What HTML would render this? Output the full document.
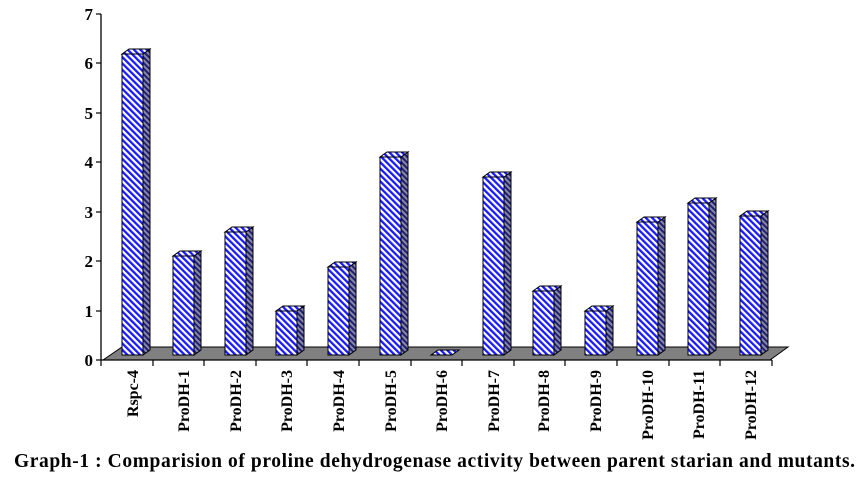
<!DOCTYPE html>
<html><head><style>
body{margin:0;background:#fff;}
svg{display:block;font-family:"Liberation Serif",serif;font-weight:bold;}
</style></head><body>
<svg width="862" height="480" xmlns="http://www.w3.org/2000/svg">
<defs>
<pattern id="f" width="4.5" height="4.5" patternUnits="userSpaceOnUse" patternTransform="rotate(-45)">
<rect width="4.5" height="4.5" fill="#fff"/><rect width="2.3" height="4.5" fill="#1a1aff"/></pattern>
<pattern id="s" width="4" height="4" patternUnits="userSpaceOnUse" patternTransform="rotate(-45)">
<rect width="4" height="4" fill="#8888a8"/><rect width="2" height="4" fill="#202070"/></pattern>
</defs>
<polygon points="103,360 122,347 788,347 770,360" fill="#808080" stroke="#000" stroke-width="1"/>
<line x1="101" y1="14" x2="101" y2="360" stroke="#000" stroke-width="1.3"/>
<line x1="101" y1="360" x2="772" y2="360" stroke="#000" stroke-width="1.3"/>
<g stroke="#000" stroke-width="1.2">
<line x1="96" y1="14" x2="101" y2="14"/><line x1="96" y1="63" x2="101" y2="63"/><line x1="96" y1="113" x2="101" y2="113"/><line x1="96" y1="162" x2="101" y2="162"/><line x1="96" y1="212" x2="101" y2="212"/><line x1="96" y1="261" x2="101" y2="261"/><line x1="96" y1="311" x2="101" y2="311"/><line x1="96" y1="360" x2="101" y2="360"/>
<line x1="101" y1="360" x2="101" y2="366"/><line x1="153" y1="360" x2="153" y2="366"/><line x1="204" y1="360" x2="204" y2="366"/><line x1="256" y1="360" x2="256" y2="366"/><line x1="307" y1="360" x2="307" y2="366"/><line x1="359" y1="360" x2="359" y2="366"/><line x1="411" y1="360" x2="411" y2="366"/><line x1="462" y1="360" x2="462" y2="366"/><line x1="514" y1="360" x2="514" y2="366"/><line x1="565" y1="360" x2="565" y2="366"/><line x1="617" y1="360" x2="617" y2="366"/><line x1="669" y1="360" x2="669" y2="366"/><line x1="720" y1="360" x2="720" y2="366"/><line x1="772" y1="360" x2="772" y2="366"/>
</g>
<g font-size="17" text-anchor="end">
<text x="93" y="20">7</text><text x="93" y="69">6</text><text x="93" y="119">5</text><text x="93" y="168">4</text><text x="93" y="218">3</text><text x="93" y="267">2</text><text x="93" y="317">1</text><text x="93" y="366">0</text>
</g>
<g stroke="#000" stroke-width="1">
<rect x="122" y="54" width="21" height="301" fill="url(#f)"/><polygon points="143,54 150,49 150,350 143,355" fill="url(#s)"/><polygon points="122,54 129,49 150,49 143,54" fill="url(#f)"/>
<rect x="173" y="256" width="21" height="99" fill="url(#f)"/><polygon points="194,256 201,251 201,350 194,355" fill="url(#s)"/><polygon points="173,256 180,251 201,251 194,256" fill="url(#f)"/>
<rect x="225" y="232" width="21" height="123" fill="url(#f)"/><polygon points="246,232 253,227 253,350 246,355" fill="url(#s)"/><polygon points="225,232 232,227 253,227 246,232" fill="url(#f)"/>
<rect x="276" y="311" width="21" height="44" fill="url(#f)"/><polygon points="297,311 304,306 304,350 297,355" fill="url(#s)"/><polygon points="276,311 283,306 304,306 297,311" fill="url(#f)"/>
<rect x="328" y="267" width="21" height="88" fill="url(#f)"/><polygon points="349,267 356,262 356,350 349,355" fill="url(#s)"/><polygon points="328,267 335,262 356,262 349,267" fill="url(#f)"/>
<rect x="380" y="157" width="21" height="198" fill="url(#f)"/><polygon points="401,157 408,152 408,350 401,355" fill="url(#s)"/><polygon points="380,157 387,152 408,152 401,157" fill="url(#f)"/>
<polygon points="431,355 438,350 459,350 452,355" fill="url(#f)"/>
<rect x="483" y="177" width="21" height="178" fill="url(#f)"/><polygon points="504,177 511,172 511,350 504,355" fill="url(#s)"/><polygon points="483,177 490,172 511,172 504,177" fill="url(#f)"/>
<rect x="533" y="291" width="21" height="64" fill="url(#f)"/><polygon points="554,291 561,286 561,350 554,355" fill="url(#s)"/><polygon points="533,291 540,286 561,286 554,291" fill="url(#f)"/>
<rect x="585" y="311" width="21" height="44" fill="url(#f)"/><polygon points="606,311 613,306 613,350 606,355" fill="url(#s)"/><polygon points="585,311 592,306 613,306 606,311" fill="url(#f)"/>
<rect x="637" y="222" width="21" height="133" fill="url(#f)"/><polygon points="658,222 665,217 665,350 658,355" fill="url(#s)"/><polygon points="637,222 644,217 665,217 658,222" fill="url(#f)"/>
<rect x="688" y="203" width="21" height="152" fill="url(#f)"/><polygon points="709,203 716,198 716,350 709,355" fill="url(#s)"/><polygon points="688,203 695,198 716,198 709,203" fill="url(#f)"/>
<rect x="740" y="216" width="21" height="139" fill="url(#f)"/><polygon points="761,216 768,211 768,350 761,355" fill="url(#s)"/><polygon points="740,216 747,211 768,211 761,216" fill="url(#f)"/>
</g>
<g font-size="16" text-anchor="end">
<text transform="translate(138,370) rotate(-90)">Rspc-4</text>
<text transform="translate(189,370) rotate(-90)">ProDH-1</text>
<text transform="translate(241,370) rotate(-90)">ProDH-2</text>
<text transform="translate(292,370) rotate(-90)">ProDH-3</text>
<text transform="translate(344,370) rotate(-90)">ProDH-4</text>
<text transform="translate(396,370) rotate(-90)">ProDH-5</text>
<text transform="translate(447,370) rotate(-90)">ProDH-6</text>
<text transform="translate(499,370) rotate(-90)">ProDH-7</text>
<text transform="translate(549,370) rotate(-90)">ProDH-8</text>
<text transform="translate(601,370) rotate(-90)">ProDH-9</text>
<text transform="translate(653,370) rotate(-90)">ProDH-10</text>
<text transform="translate(704,370) rotate(-90)">ProDH-11</text>
<text transform="translate(756,370) rotate(-90)">ProDH-12</text>
</g>
<text x="14" y="467" font-size="19.5" textLength="841" lengthAdjust="spacing">Graph-1 : Comparision of proline dehydrogenase activity between parent starian and mutants.</text>
</svg>
</body></html>
